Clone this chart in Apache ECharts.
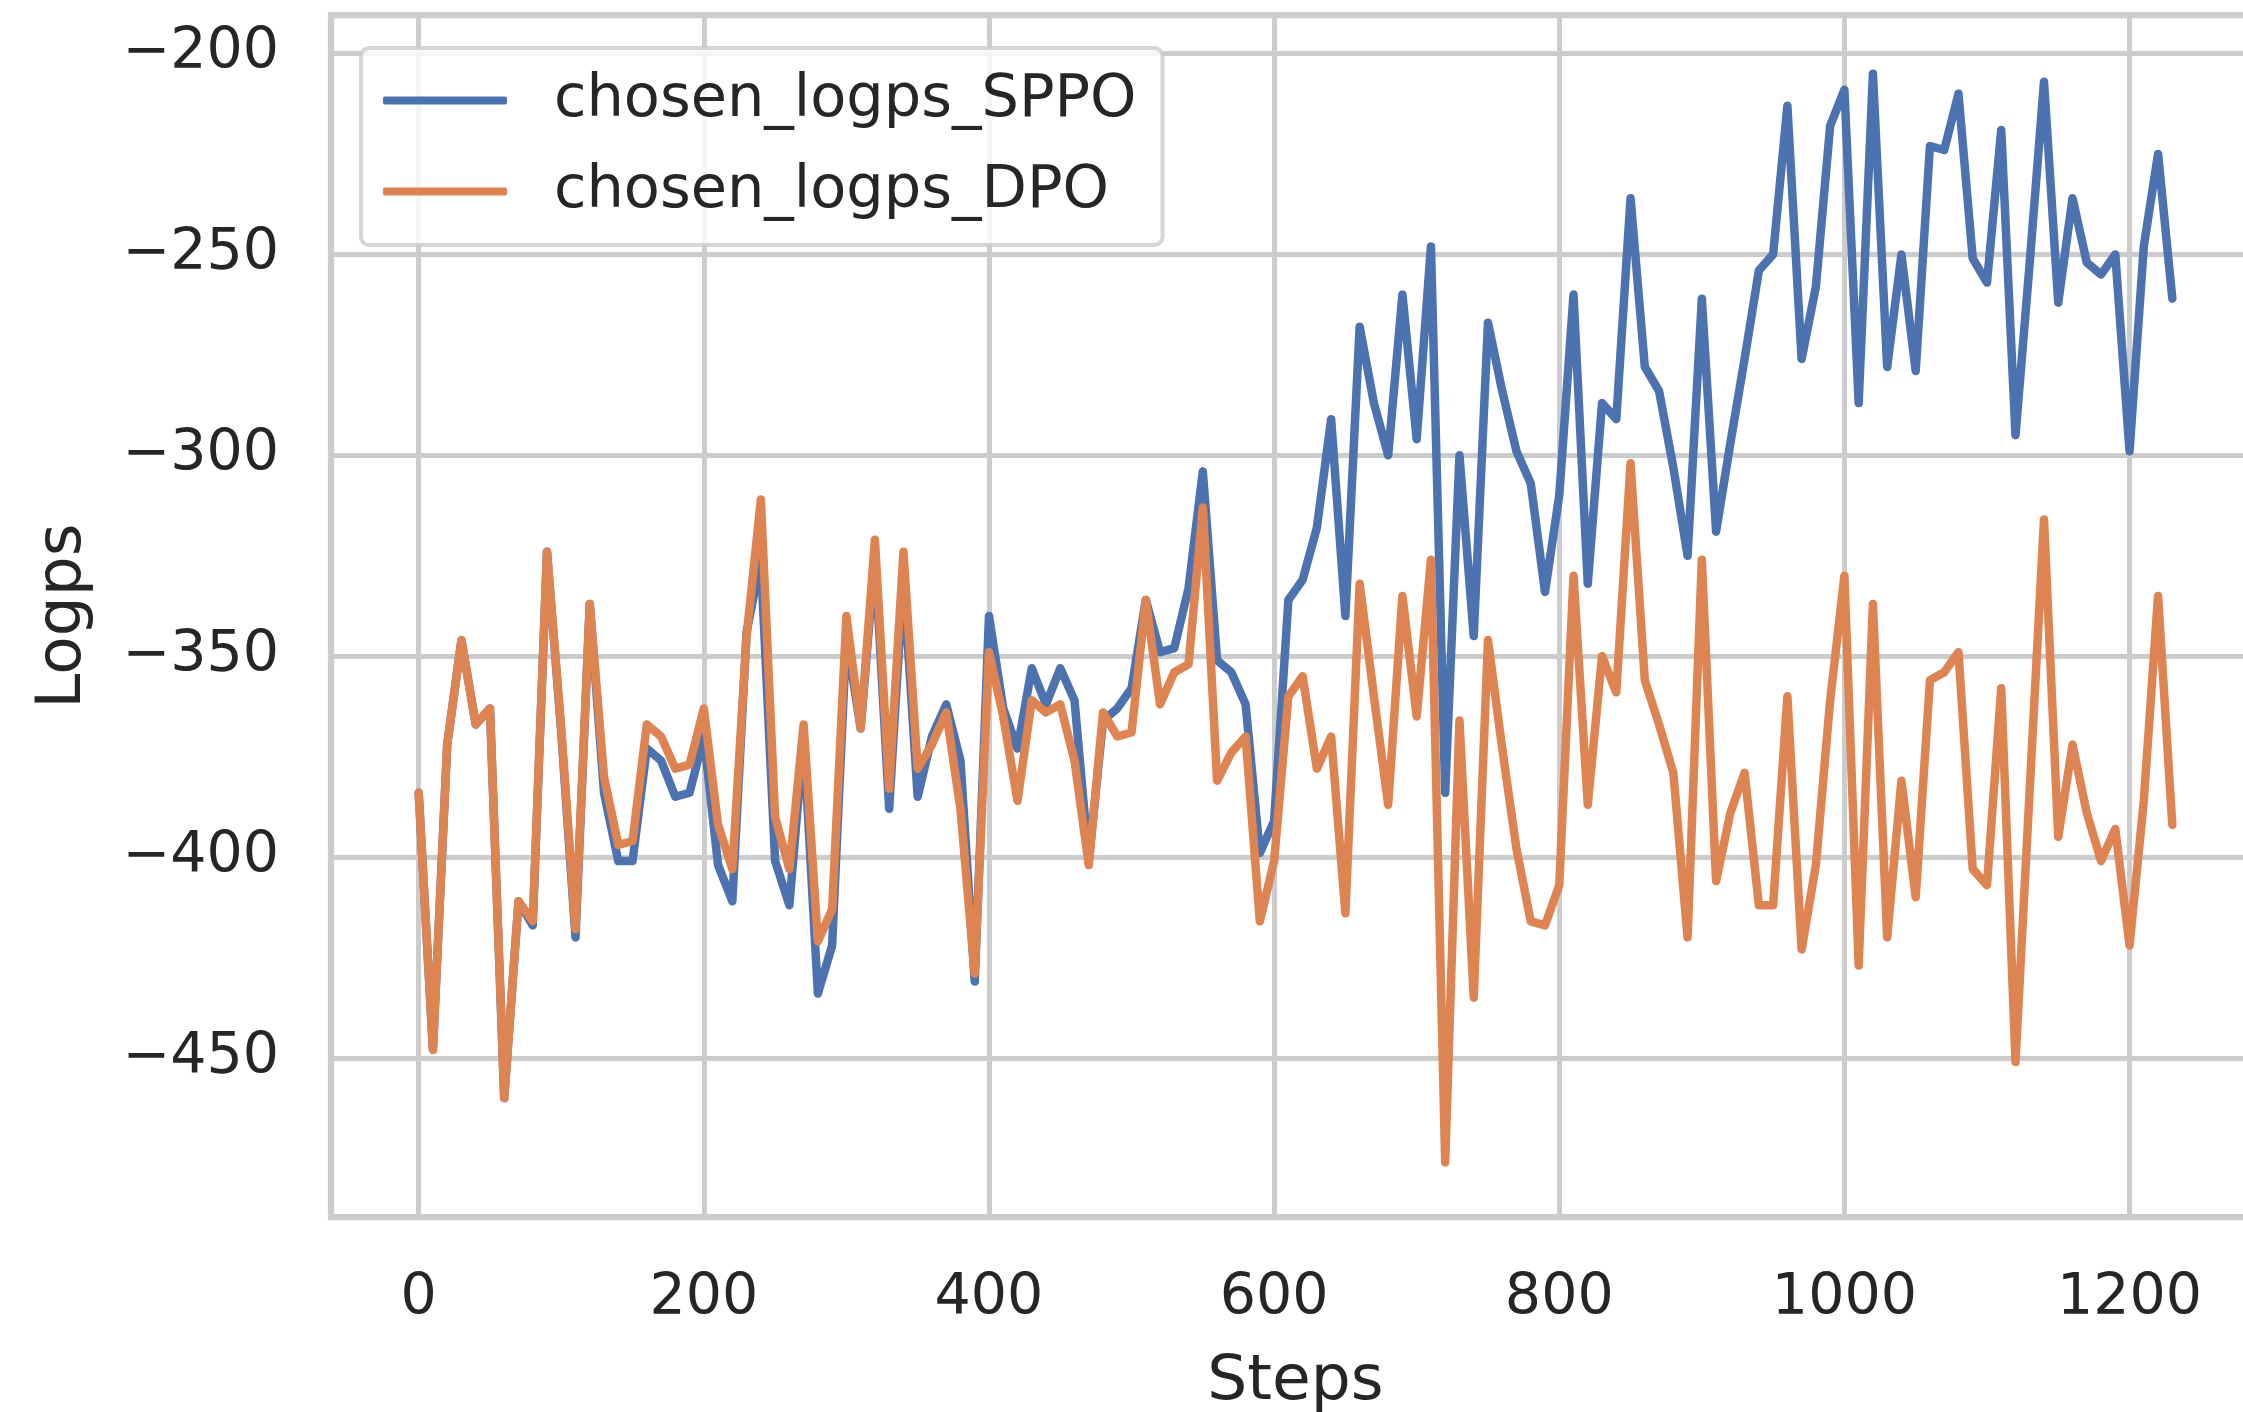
<!DOCTYPE html>
<html>
<head>
<meta charset="utf-8">
<script src="https://cdn.jsdelivr.net/npm/echarts@6/dist/echarts.min.js"></script>
<style>
  html, body { margin: 0; padding: 0; background: #fff; }
  #chart { width: 2243px; height: 1412px; }
</style>
</head>
<body>
<div id="chart"></div>
<script>
// training steps, logged every 10 steps
const steps = []
for (let s = 0; s <= 1230; s += 10) steps.push(s)

const sppo = [
  -384, -448, -372, -346, -367, -363, -460, -411, -417, -324,
  -369, -420, -337, -384, -401, -401, -373, -376, -385, -384,
  -370, -402, -411, -344, -326, -401, -412, -370, -434, -422,
  -345, -368, -325, -388, -330, -385, -370, -362, -376, -431,
  -340, -363, -373, -353, -362, -353, -361, -401, -366, -363,
  -358, -336, -349, -348, -333, -304, -351, -354, -362, -399,
  -391, -336, -331, -318, -291, -340, -268, -287, -300, -260,
  -296, -248, -384, -300, -345, -267, -284, -299, -307, -334,
  -310, -260, -332, -287, -291, -236, -278, -284, -303, -325,
  -261, -319, -297, -276, -254, -250, -213, -276, -258, -218,
  -209, -287, -205, -278, -250, -279, -223, -224, -210, -251,
  -257, -219, -295, -252, -207, -262, -236, -252, -255, -250,
  -299, -248, -225, -261,
]

const dpo = [
  -384, -448, -372, -346, -367, -363, -460, -411, -416, -324,
  -368, -418, -337, -380, -397, -396, -367, -370, -378, -377,
  -363, -392, -403, -345, -311, -390, -403, -367, -421, -413,
  -340, -368, -321, -383, -324, -378, -372, -364, -388, -429,
  -349, -365, -386, -361, -364, -362, -376, -402, -364, -370,
  -369, -336, -362, -354, -352, -313, -381, -374, -370, -416,
  -401, -360, -355, -378, -370, -414, -332, -360, -387, -335,
  -365, -326, -476, -366, -435, -346, -373, -398, -416, -417,
  -407, -330, -387, -350, -359, -302, -356, -367, -379, -420,
  -326, -406, -389, -379, -412, -412, -360, -423, -402, -361,
  -330, -427, -337, -420, -381, -410, -356, -354, -349, -403,
  -407, -358, -451, -383, -316, -395, -372, -389, -401, -393,
  -422, -386, -335, -392,
]

const xTicks = [0, 200, 400, 600, 800, 1000, 1200]
const yTicks = [-450, -400, -350, -300, -250, -200]

const textColor = '#262626'
const gridColor = '#cccccc'
const font = 'DejaVu Sans'

const chart = echarts.init(document.getElementById('chart'), null, { renderer: 'canvas' })

const toPairs = (ys) => steps.map((s, i) => [s, ys[i]])

const option = {
  animation: false,
  backgroundColor: '#ffffff',
  textStyle: { fontFamily: font, color: textColor },
  grid: {
    left: 331,
    top: 15,
    right: -17,
    bottom: 195,
    show: true,
    borderColor: gridColor,
    borderWidth: 6.25,
    backgroundColor: 'transparent',
    outerBoundsMode: 'none',
  },
  legend: {
    orient: 'vertical',
    left: 361,
    top: 48,
    padding: [23, 26, 24, 22],
    itemWidth: 124,
    itemHeight: 8,
    itemGap: 32,
    backgroundColor: 'rgba(255,255,255,0.8)',
    borderColor: 'rgba(204,204,204,0.8)',
    borderWidth: 4,
    borderRadius: 8,
    icon: 'roundRect',
    textStyle: {
      fontFamily: font,
      fontSize: 59,
      color: textColor,
      padding: [0, 0, 0, 42],
    },
    data: ['chosen_logps_SPPO', 'chosen_logps_DPO'],
  },
  xAxis: {
    type: 'value',
    min: -61.5,
    max: 1291.5,
    name: 'Steps',
    nameLocation: 'middle',
    nameGap: 134,
    nameTextStyle: { fontFamily: font, fontSize: 63, color: textColor },
    axisLine: { show: false },
    axisTick: { show: false, customValues: xTicks },
    axisLabel: {
      customValues: xTicks,
      margin: 54,
      fontFamily: font,
      fontSize: 57,
      color: textColor,
      formatter: (v) => String(v),
    },
    splitLine: { show: true, lineStyle: { color: gridColor, width: 5 } },
  },
  yAxis: {
    type: 'value',
    min: -489.6,
    max: -190.4,
    name: 'Logps',
    nameLocation: 'middle',
    nameGap: 236,
    nameTextStyle: { fontFamily: font, fontSize: 63, color: textColor },
    axisLine: { show: false },
    axisTick: { show: false, customValues: yTicks },
    axisLabel: {
      customValues: yTicks,
      margin: 52,
      padding: [10, 0, 0, 0],
      fontFamily: font,
      fontSize: 57,
      color: textColor,
      formatter: (v) => String(v).replace('-', '\u2212'),
    },
    splitLine: { show: true, lineStyle: { color: gridColor, width: 5 } },
  },
  series: [
    {
      name: 'chosen_logps_SPPO',
      type: 'line',
      data: toPairs(sppo),
      symbol: 'none',
      color: '#4c72b0',
      lineStyle: { width: 8.5, color: '#4c72b0', join: 'round', cap: 'round' },
    },
    {
      name: 'chosen_logps_DPO',
      type: 'line',
      data: toPairs(dpo),
      symbol: 'none',
      color: '#dd8452',
      lineStyle: { width: 8.5, color: '#dd8452', join: 'round', cap: 'round' },
    },
  ],
}

chart.setOption(option)
</script>
</body>
</html>
